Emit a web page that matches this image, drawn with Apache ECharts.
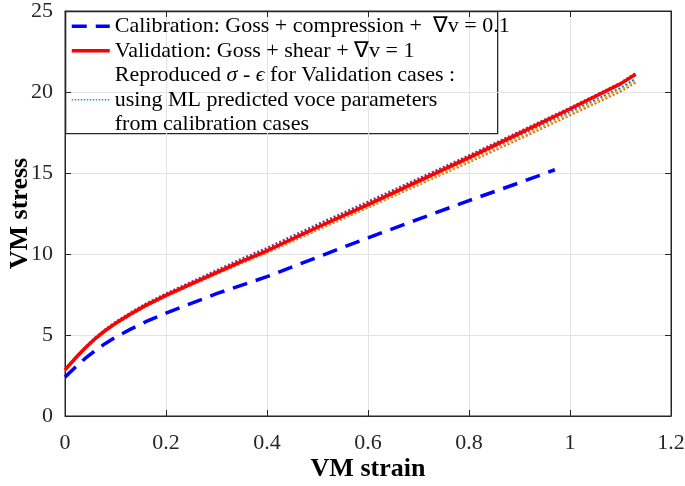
<!DOCTYPE html>
<html>
<head>
<meta charset="utf-8">
<script src="https://cdn.jsdelivr.net/npm/echarts@6/dist/echarts.min.js"></script>
<style>html,body{margin:0;padding:0;background:#fff}#c{width:685px;height:486px}</style>
</head>
<body>
<div id="c"></div>
<script>
// ---- data ----
const calibX = [0, 0.02, 0.04, 0.06, 0.08, 0.1, 0.13, 0.16, 0.2, 0.25, 0.3, 0.4, 0.5, 0.6, 0.7, 0.8, 0.9, 0.97];
const calibY = [2.4, 3.0, 3.55, 4.05, 4.48, 4.86, 5.36, 5.82, 6.35, 6.95, 7.55, 8.6, 9.8, 11.0, 12.15, 13.3, 14.4, 15.2];

const validX = [0, 0.02, 0.04, 0.06, 0.08, 0.1, 0.13, 0.16, 0.2, 0.25, 0.3, 0.35, 0.4, 0.5, 0.6, 0.7, 0.8, 0.9, 1.0, 1.1, 1.13];
const validY = [2.85, 3.55, 4.2, 4.78, 5.28, 5.72, 6.3, 6.83, 7.45, 8.15, 8.85, 9.55, 10.2, 11.65, 13.05, 14.5, 15.95, 17.45, 18.95, 20.5, 21.1];

const reproPurple = [2.85, 3.57, 4.23, 4.83, 5.34, 5.79, 6.38, 6.92, 7.55, 8.27, 8.98, 9.7, 10.36, 11.82, 13.22, 14.65, 16.08, 17.55, 19.02, 20.55, 21.15];
const reproBlue   = [2.85, 3.55, 4.2, 4.78, 5.28, 5.72, 6.3, 6.83, 7.45, 8.15, 8.85, 9.52, 10.17, 11.6, 12.98, 14.4, 15.82, 17.28, 18.75, 20.22, 20.8];
const reproYellow = [2.85, 3.54, 4.19, 4.76, 5.26, 5.7, 6.28, 6.8, 7.42, 8.12, 8.8, 9.48, 10.12, 11.55, 12.92, 14.32, 15.74, 17.2, 18.66, 20.13, 20.68];
const reproOrange = [2.85, 3.53, 4.18, 4.75, 5.25, 5.68, 6.26, 6.78, 7.4, 8.1, 8.78, 9.45, 10.1, 11.5, 12.88, 14.28, 15.68, 17.12, 18.58, 20.05, 20.6];

const xTickLabels = ['0', '0.2', '0.4', '0.6', '0.8', '1', '1.2'];
const yTickLabels = ['0', '5', '10', '15', '20', '25'];

const nameCalib = 'Calibration: Goss + compression +  \u2207v = 0.1';
const nameValid = 'Validation: Goss + shear + \u2207v = 1';
const nameRepro = 'Reproduced {i|\u03c3} - {i|\u03f5} for Validation cases :\nusing ML predicted voce parameters\nfrom calibration cases';

// ---- build ----
const pairs = (xs, ys) => xs.map((x, i) => [x, ys[i]]);
const FONT = '"Liberation Serif", "Times New Roman", serif';
const AX = '#262626';

const chart = echarts.init(document.getElementById('c'), null, {renderer: 'canvas'});

function dotted(name, color, ys, z) {
  return {
    name: name, type: 'line', data: pairs(validX, ys), showSymbol: false, symbol: 'none',
    lineStyle: {color: color, width: 2.6, type: [2, 2]}, itemStyle: {color: color}, z: z, silent: true
  };
}

const option = {
  animation: false,
  backgroundColor: '#fff',
  grid: {left: 65, right: 14, top: 11, bottom: 70, show: true, borderColor: AX, borderWidth: 1,
         outerBoundsMode: 'none', containLabel: false},
  legend: {
    orient: 'vertical', left: 70, top: 14, padding: 0, itemWidth: 38, itemHeight: 10, itemGap: 0,
    data: [
      {name: nameCalib, lineStyle: {width: 3.5}},
      {name: nameValid, lineStyle: {width: 3.5}},
      {name: nameRepro, lineStyle: {color: '#2a8fd0', width: 1.4, type: [1.5, 1.5]}}
    ],
    itemStyle: {opacity: 0},
    selectedMode: false,
    textStyle: {
      fontFamily: FONT, fontSize: 22, color: '#000', lineHeight: 24.5, padding: [0, 0, 0, 0],
      rich: {i: {fontFamily: FONT, fontSize: 22, fontStyle: 'italic', lineHeight: 24.5}}
    }
  },
  graphic: [{
    type: 'rect', left: 65, top: 11, z: -1,
    shape: {width: 432, height: 122},
    style: {fill: '#fff', stroke: '#262626', lineWidth: 1.3}
  }],
  xAxis: [{
    type: 'value', min: 0, max: 1.2, interval: 0.2,
    name: 'VM strain', nameLocation: 'middle', nameGap: 40, nameMoveOverlap: false,
    nameTextStyle: {fontFamily: FONT, fontSize: 26, fontWeight: 'bold', color: '#000'},
    axisLine: {show: true, onZero: false, lineStyle: {color: AX, width: 1}},
    axisTick: {show: true, inside: true, length: 6, lineStyle: {color: AX}},
    axisLabel: {fontFamily: FONT, fontSize: 22, color: AX, margin: 16,
      formatter: (v) => xTickLabels[Math.round(v / 0.2)]},
    splitLine: {show: true, lineStyle: {color: '#e3e3e3', width: 1}}
  }, {
    type: 'value', min: 0, max: 1.2, interval: 0.2, position: 'top',
    axisLine: {show: true, onZero: false, lineStyle: {color: AX}},
    axisTick: {show: true, inside: true, length: 6, lineStyle: {color: AX}},
    axisLabel: {show: false}, splitLine: {show: false}
  }],
  yAxis: [{
    type: 'value', min: 0, max: 25, interval: 5,
    name: 'VM stress', nameLocation: 'middle', nameGap: 32, nameRotate: 90, nameMoveOverlap: false,
    nameTextStyle: {fontFamily: FONT, fontSize: 26, fontWeight: 'bold', color: '#000'},
    axisLine: {show: true, onZero: false, lineStyle: {color: AX, width: 1}},
    axisTick: {show: true, inside: true, length: 6, lineStyle: {color: AX}},
    axisLabel: {fontFamily: FONT, fontSize: 22, color: AX, margin: 12,
      formatter: (v) => yTickLabels[Math.round(v / 5)]},
    splitLine: {show: true, lineStyle: {color: '#e3e3e3', width: 1}}
  }, {
    type: 'value', min: 0, max: 25, interval: 5, position: 'right',
    axisLine: {show: true, onZero: false, lineStyle: {color: AX}},
    axisTick: {show: true, inside: true, length: 6, lineStyle: {color: AX}},
    axisLabel: {show: false}, splitLine: {show: false}
  }],
  series: [
    {
      name: nameCalib, type: 'line', data: pairs(calibX, calibY), showSymbol: false, symbol: 'none',
      lineStyle: {color: '#0000FF', width: 3.5, type: [15, 9]}, itemStyle: {color: '#0000FF'}, z: 5
    },
    dotted(nameRepro, '#0072BD', reproBlue, 3),
    dotted('reproPurple', '#7E2F8E', reproPurple, 3),
    dotted('reproOrange', '#D95319', reproOrange, 3),
    dotted('reproYellow', '#EDB120', reproYellow, 3),
    {
      name: nameValid, type: 'line', data: pairs(validX, validY), showSymbol: false, symbol: 'none',
      lineStyle: {color: '#FF0000', width: 3.5}, itemStyle: {color: '#FF0000'}, z: 4
    }
  ]
};
chart.setOption(option);
</script>
</body>
</html>
